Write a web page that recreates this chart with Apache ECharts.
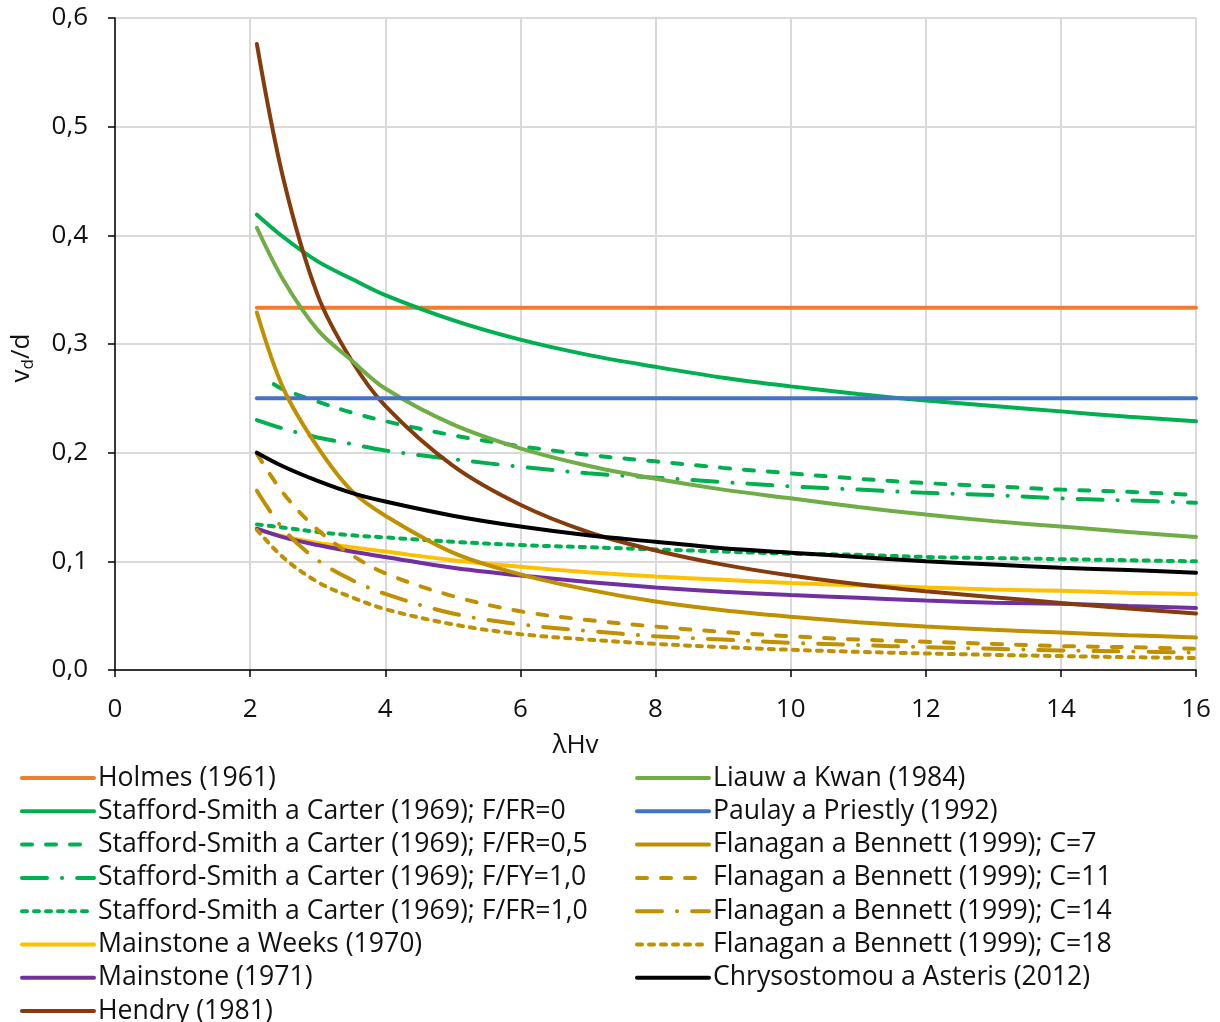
<!DOCTYPE html>
<html>
<head>
<meta charset="utf-8">
<script src="https://cdn.jsdelivr.net/npm/echarts@6/dist/echarts.min.js"></script>
<style>
  html, body { margin: 0; padding: 0; background: #fff; }
  #chart { width: 1220px; height: 1022px; }
</style>
</head>
<body>
<div id="chart"></div>
<script>
// λHv sample points
const xs = [2.1, 2.5, 3, 3.5, 4, 5, 6, 7, 8, 9, 10, 11, 12, 13, 14, 15, 16];
const xsFR05 = [2.35, 2.5, 3, 3.5, 4, 5, 6, 7, 8, 9, 10, 11, 12, 13, 14, 15, 16];
const xsFlat = [2.1, 16];

// vd/d values
const holmes = [0.3333, 0.3333];
const paulay = [0.25, 0.25];
const ssFR0 = [0.419, 0.398, 0.376, 0.360, 0.345, 0.322, 0.304, 0.290, 0.279, 0.269, 0.261, 0.254, 0.248, 0.243, 0.238, 0.233, 0.229];
const ssFR05 = [0.263, 0.258, 0.247, 0.237, 0.229, 0.216, 0.206, 0.198, 0.192, 0.186, 0.181, 0.176, 0.172, 0.169, 0.166, 0.164, 0.161];
const ssFY10 = [0.230, 0.222, 0.214, 0.208, 0.202, 0.194, 0.187, 0.181, 0.177, 0.173, 0.169, 0.166, 0.163, 0.161, 0.158, 0.156, 0.154];
const ssFR10 = [0.134, 0.131, 0.127, 0.124, 0.122, 0.118, 0.115, 0.113, 0.111, 0.109, 0.107, 0.106, 0.104, 0.103, 0.102, 0.101, 0.100];
const mainWeeks = [0.129, 0.123, 0.117, 0.113, 0.109, 0.101, 0.095, 0.090, 0.086, 0.083, 0.080, 0.078, 0.076, 0.074, 0.073, 0.071, 0.070];
const mainstone = [0.130, 0.122, 0.115, 0.109, 0.104, 0.094, 0.087, 0.081, 0.076, 0.072, 0.069, 0.0665, 0.064, 0.062, 0.061, 0.059, 0.057];
const hendry = [0.576, 0.450, 0.345, 0.285, 0.243, 0.188, 0.152, 0.127, 0.110, 0.097, 0.087, 0.079, 0.0725, 0.067, 0.0617, 0.0567, 0.052];
const liauw = [0.407, 0.358, 0.313, 0.285, 0.259, 0.226, 0.204, 0.188, 0.176, 0.166, 0.158, 0.150, 0.143, 0.137, 0.132, 0.127, 0.1225];
const fb7 = [0.329, 0.258, 0.205, 0.165, 0.142, 0.108, 0.088, 0.074, 0.063, 0.055, 0.049, 0.044, 0.040, 0.037, 0.0345, 0.032, 0.030];
const fb11 = [0.199, 0.162, 0.129, 0.106, 0.089, 0.068, 0.054, 0.046, 0.040, 0.035, 0.031, 0.028, 0.026, 0.024, 0.022, 0.021, 0.0195];
const fb14 = [0.165, 0.129, 0.101, 0.083, 0.070, 0.052, 0.042, 0.036, 0.031, 0.028, 0.025, 0.023, 0.021, 0.0195, 0.018, 0.017, 0.016];
const fb18 = [0.129, 0.103, 0.081, 0.067, 0.056, 0.042, 0.033, 0.028, 0.024, 0.021, 0.0186, 0.0167, 0.0152, 0.0139, 0.0128, 0.0118, 0.011];
const chrys = [0.200, 0.187, 0.174, 0.163, 0.155, 0.142, 0.132, 0.124, 0.118, 0.112, 0.108, 0.104, 0.100, 0.097, 0.094, 0.092, 0.0895];

const FONT = 'Open Sans';
const TEXT = '#111';
const DASH = [10, 14];
const DASH_DOT = [25, 15, 0.1, 15];
const SHORT_DASH = [5, 7];

const seriesDefs = [
  { name: 'Holmes (1961)', x: xsFlat, y: holmes, color: '#ED7D31', type: 'solid' },
  { name: 'Stafford-Smith a Carter (1969); F/FR=0', x: xs, y: ssFR0, color: '#00B050', type: 'solid' },
  { name: 'Stafford-Smith a Carter (1969); F/FR=0,5', x: xsFR05, y: ssFR05, color: '#00B050', type: DASH },
  { name: 'Stafford-Smith a Carter (1969); F/FY=1,0', x: xs, y: ssFY10, color: '#00B050', type: DASH_DOT },
  { name: 'Stafford-Smith a Carter (1969); F/FR=1,0', x: xs, y: ssFR10, color: '#00B050', type: SHORT_DASH },
  { name: 'Mainstone a Weeks (1970)', x: xs, y: mainWeeks, color: '#FFC000', type: 'solid' },
  { name: 'Mainstone (1971)', x: xs, y: mainstone, color: '#7030A0', type: 'solid' },
  { name: 'Hendry (1981)', x: xs, y: hendry, color: '#843C0C', type: 'solid' },
  { name: 'Liauw a Kwan (1984)', x: xs, y: liauw, color: '#70AD47', type: 'solid' },
  { name: 'Paulay a Priestly (1992)', x: xsFlat, y: paulay, color: '#4472C4', type: 'solid' },
  { name: 'Flanagan a Bennett (1999); C=7', x: xs, y: fb7, color: '#BF9000', type: 'solid' },
  { name: 'Flanagan a Bennett (1999); C=11', x: xs, y: fb11, color: '#BF9000', type: DASH },
  { name: 'Flanagan a Bennett (1999); C=14', x: xs, y: fb14, color: '#BF9000', type: DASH_DOT },
  { name: 'Flanagan a Bennett (1999); C=18', x: xs, y: fb18, color: '#BF9000', type: SHORT_DASH },
  { name: 'Chrysostomou a Asteris (2012)', x: xs, y: chrys, color: '#000000', type: 'solid' }
];

const leftNames = seriesDefs.slice(0, 8).map(s => s.name);
const rightNames = seriesDefs.slice(8).map(s => s.name);

const legendBase = {
  orient: 'vertical',
  top: 764,
  height: 300,
  padding: 0,
  itemWidth: 72,
  itemHeight: 14,
  itemGap: 5.3,
  selectedMode: false,
  itemStyle: { opacity: 0 },
  lineStyle: { width: 4 },
  textStyle: { fontFamily: FONT, fontSize: 26.6, color: TEXT, lineHeight: 28, padding: [0, 0, 0, -1] }
};

const chart = echarts.init(document.getElementById('chart'), null, { renderer: 'canvas' });

const option = {
  animation: false,
  backgroundColor: '#fff',
  grid: { left: 115, right: 24, top: 18, bottom: 352, containLabel: false, outerBoundsMode: 'none' },
  legend: [
    Object.assign({}, legendBase, { left: 20, data: leftNames }),
    Object.assign({}, legendBase, { left: 635, data: rightNames })
  ],
  xAxis: {
    type: 'value',
    min: 0,
    max: 16,
    interval: 2,
    name: 'λHv',
    nameLocation: 'middle',
    nameGap: 63,
    nameTextStyle: { fontFamily: FONT, fontSize: 26, color: TEXT, padding: [0, 160, 0, 0] },
    axisLine: { show: true, lineStyle: { color: '#000', width: 1.5 } },
    axisTick: { show: true, inside: false, length: 7, lineStyle: { color: '#000', width: 1.5 } },
    axisLabel: { fontFamily: FONT, fontSize: 26, color: TEXT, margin: 27 },
    splitLine: { show: true, lineStyle: { color: '#d9d9d9', width: 2 } }
  },
  yAxis: {
    type: 'value',
    min: 0,
    max: 0.6,
    interval: 0.1,
    name: '{a|v}{b|d}{a|/d}',
    nameLocation: 'middle',
    nameGap: 78,
    nameRotate: 90,
    nameTextStyle: {
      fontFamily: FONT, fontSize: 26, color: TEXT, padding: [0, 28, 0, 0],
      rich: {
        a: { fontFamily: FONT, fontSize: 26, color: TEXT, lineHeight: 30 },
        b: { fontFamily: FONT, fontSize: 17, color: TEXT, lineHeight: 30, verticalAlign: 'bottom', padding: [9, 0, 0, 0] }
      }
    },
    axisLine: { show: true, lineStyle: { color: '#000', width: 1.5 } },
    axisTick: { show: true, inside: false, length: 7, lineStyle: { color: '#000', width: 1.5 } },
    axisLabel: {
      fontFamily: FONT, fontSize: 26, color: TEXT, margin: 27,
      formatter: v => v.toFixed(1).replace('.', ',')
    },
    splitLine: { show: true, lineStyle: { color: '#d9d9d9', width: 2 } }
  },
  series: seriesDefs.map(s => ({
    name: s.name,
    type: 'line',
    data: s.x.map((x, i) => [x, s.y[i]]),
    smooth: 0.35,
    symbol: 'none',
    showSymbol: false,
    clip: true,
    color: s.color,
    lineStyle: { color: s.color, width: 4, type: s.type, cap: 'round' },
    emphasis: { disabled: true }
  }))
};

chart.setOption(option);
</script>
</body>
</html>
